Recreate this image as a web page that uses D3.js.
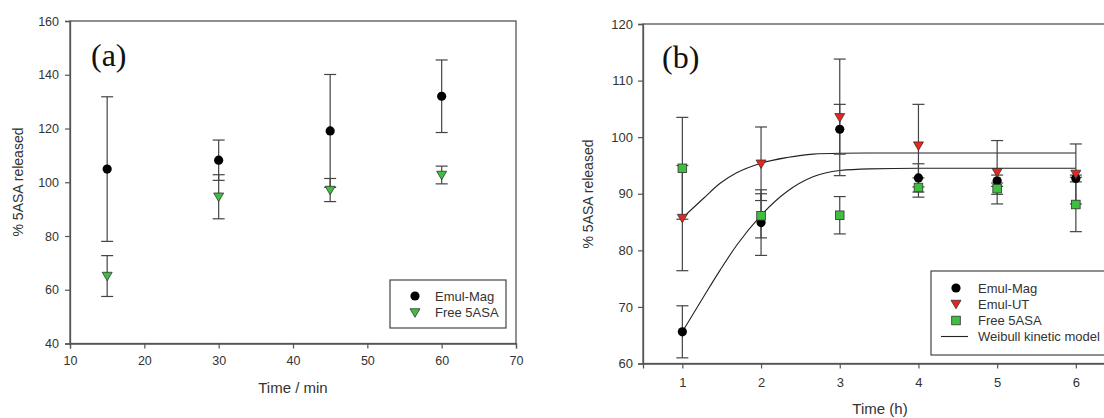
<!DOCTYPE html>
<html>
<head>
<meta charset="utf-8">
<script src="https://cdn.jsdelivr.net/npm/d3@7"></script>
<style>
  html, body { margin: 0; padding: 0; background: #fff; }
  svg { display: block; }
  text { font-family: "Liberation Sans", Arial, sans-serif; fill: #333; }
  text.panel { font-family: "Liberation Serif", "Times New Roman", serif; fill: #111; }
</style>
</head>
<body>
<svg id="chart" width="1104" height="418"></svg>
<script>
// ---------- Panel (a) data ----------
const timeA = [15, 30, 45, 60];
const magA = [104.9, 108.2, 119.1, 132.0];
const magAErr = [26.9, 7.5, 21.0, 13.5];
const freeA = [65.1, 94.6, 97.1, 102.7];
const freeAErr = [7.6, 8.2, 4.3, 3.3];
const xTicksA = [10, 20, 30, 40, 50, 60, 70];
const yTicksA = [40, 60, 80, 100, 120, 140, 160];
const legendA = ["Emul-Mag", "Free 5ASA"];

// ---------- Panel (b) data ----------
const timeB = [1, 2, 3, 4, 5, 6];
const magB = [65.6, 84.9, 101.4, 92.8, 92.3, 92.7];
const magBErr = [4.6, 5.8, 4.4, 2.5, 1.0, 0.6];
const utB = [85.7, 95.3, 103.5, 98.5, 93.8, 93.5];
const utBErr = [9.3, 6.5, 10.3, 7.3, 5.6, 5.3];
const freeB = [94.5, 86.1, 86.2, 91.1, 90.9, 88.1];
const freeBErr = [9.0, 3.9, 3.3, 1.7, 1.0, 4.8];
// Weibull model curves
const fitUTt = [1, 1.27, 1.48, 1.69, 2, 2.33, 2.66, 3, 3.5, 4, 5, 6];
const fitUTv = [85.7, 89.2, 91.85, 93.7, 95.4, 96.4, 97.0, 97.15, 97.2, 97.2, 97.2, 97.2];
const fitMagt = [1, 1.27, 1.48, 1.69, 2, 2.33, 2.66, 3, 3.38, 4, 5, 6];
const fitMagv = [65.6, 71.8, 76.5, 80.9, 86.2, 90.4, 93.0, 94.1, 94.4, 94.5, 94.5, 94.5];
const xTicksB = [1, 2, 3, 4, 5, 6];
const yTicksB = [60, 70, 80, 90, 100, 110, 120];
const legendB = ["Emul-Mag", "Emul-UT", "Free 5ASA", "Weibull kinetic model"];

const AXIS = "#555";
const ERR = "#444";
const GREEN = "#3fbf3f";
const RED = "#e8251f";

const svg = d3.select("#chart");

function styleAxis(g, fs) {
  g.selectAll("path.domain").attr("stroke", AXIS).attr("stroke-width", 1.3);
  g.selectAll(".tick line").attr("stroke", AXIS).attr("stroke-width", 1.2);
  g.selectAll(".tick text").style("font-size", fs + "px").style("fill", "#333");
}

function errorBars(g, x, y, ts, vs, es, cap) {
  ts.forEach((t, i) => {
    const cx = x(t), y1 = y(vs[i] + es[i]), y0 = y(vs[i] - es[i]);
    g.append("line").attr("x1", cx).attr("x2", cx).attr("y1", y1).attr("y2", y0)
      .attr("stroke", ERR).attr("stroke-width", 1.2);
    [y1, y0].forEach(yy => g.append("line")
      .attr("x1", cx - cap).attr("x2", cx + cap).attr("y1", yy).attr("y2", yy)
      .attr("stroke", ERR).attr("stroke-width", 1.2));
  });
}

function circleMark(g, cx, cy) {
  g.append("circle").attr("cx", cx).attr("cy", cy).attr("r", 4.6).attr("fill", "#000");
}
function triMark(g, cx, cy, fill) {
  const s = 5;
  g.append("path")
    .attr("d", `M${cx - s},${cy - s * 0.75}L${cx + s},${cy - s * 0.75}L${cx},${cy + s * 0.95}Z`)
    .attr("fill", fill).attr("stroke", "#333").attr("stroke-width", 0.8);
}
function sqMark(g, cx, cy) {
  const s = 4.3;
  g.append("rect").attr("x", cx - s).attr("y", cy - s).attr("width", 2 * s).attr("height", 2 * s)
    .attr("fill", GREEN).attr("stroke", "#333").attr("stroke-width", 0.8);
}

// ================= Panel (a) =================
{
  const x = d3.scaleLinear().domain([10, 70]).range([70, 516]);
  const y = d3.scaleLinear().domain([40, 160]).range([343.5, 21]);
  const g = svg.append("g");

  g.append("rect").attr("x", 70).attr("y", 21).attr("width", 446).attr("height", 322.5)
    .attr("fill", "none").attr("stroke", AXIS).attr("stroke-width", 1.3);

  g.append("g").attr("transform", "translate(0,343.5)")
    .call(d3.axisBottom(x).tickValues(xTicksA).tickSize(5).tickPadding(8).tickFormat(d3.format("d")))
    .call(styleAxis, 12.5);
  g.append("g").attr("transform", "translate(70,0)")
    .call(d3.axisLeft(y).tickValues(yTicksA).tickSize(5).tickPadding(6).tickFormat(d3.format("d")))
    .call(styleAxis, 12.5);

  g.append("text").attr("x", 293).attr("y", 393).attr("text-anchor", "middle")
    .style("font-size", "15px").text("Time / min");
  g.append("text").attr("transform", "translate(23,182) rotate(-90)").attr("text-anchor", "middle")
    .style("font-size", "14px").text("% 5ASA released");

  g.append("text").attr("class", "panel").attr("x", 91).attr("y", 66)
    .style("font-size", "32px").text("(a)");

  errorBars(g, x, y, timeA, magA, magAErr, 6);
  errorBars(g, x, y, timeA, freeA, freeAErr, 6);
  timeA.forEach((t, i) => circleMark(g, x(t), y(magA[i])));
  timeA.forEach((t, i) => triMark(g, x(t), y(freeA[i]), GREEN));

  // legend
  g.append("rect").attr("x", 390).attr("y", 280).attr("width", 116).attr("height", 48)
    .attr("fill", "#fff").attr("stroke", "#333").attr("stroke-width", 1.1);
  circleMark(g, 415, 296);
  triMark(g, 415, 312.5, GREEN);
  legendA.forEach((s, i) => g.append("text").attr("x", 435).attr("y", 296 + i * 16.5 + 4.6)
    .style("font-size", "13px").text(s));
}

// ================= Panel (b) =================
{
  const x = d3.scaleLinear().domain([0.5, 6.5]).range([643, 1115.2]);
  const y = d3.scaleLinear().domain([60, 120]).range([363.5, 24]);
  const g = svg.append("g");

  g.append("rect").attr("x", 643).attr("y", 24).attr("width", 472.2).attr("height", 339.5)
    .attr("fill", "none").attr("stroke", AXIS).attr("stroke-width", 1.3);

  g.append("g").attr("transform", "translate(0,363.5)")
    .call(d3.axisBottom(x).tickValues(xTicksB).tickSize(5).tickPadding(9).tickFormat(d3.format("d")))
    .call(styleAxis, 13);
  g.append("g").attr("transform", "translate(643,0)")
    .call(d3.axisLeft(y).tickValues(yTicksB).tickSize(5).tickPadding(5).tickFormat(d3.format("d")))
    .call(styleAxis, 13);

  g.append("text").attr("x", 880).attr("y", 414).attr("text-anchor", "middle")
    .style("font-size", "15px").text("Time (h)");
  g.append("text").attr("transform", "translate(593,194) rotate(-90)").attr("text-anchor", "middle")
    .style("font-size", "14px").text("% 5ASA released");

  g.append("text").attr("class", "panel").attr("x", 662).attr("y", 68)
    .style("font-size", "32px").text("(b)");

  const line = d3.line().x(d => x(d[0])).y(d => y(d[1])).curve(d3.curveMonotoneX);
  g.append("path").attr("d", line(fitUTt.map((t, i) => [t, fitUTv[i]])))
    .attr("fill", "none").attr("stroke", "#222").attr("stroke-width", 1.1);
  g.append("path").attr("d", line(fitMagt.map((t, i) => [t, fitMagv[i]])))
    .attr("fill", "none").attr("stroke", "#222").attr("stroke-width", 1.1);

  errorBars(g, x, y, timeB, magB, magBErr, 6);
  errorBars(g, x, y, timeB, utB, utBErr, 6);
  errorBars(g, x, y, timeB, freeB, freeBErr, 6);
  timeB.forEach((t, i) => circleMark(g, x(t), y(magB[i])));
  timeB.forEach((t, i) => triMark(g, x(t), y(utB[i]), RED));
  timeB.forEach((t, i) => sqMark(g, x(t), y(freeB[i])));

  // legend
  g.append("rect").attr("x", 931).attr("y", 271).attr("width", 200).attr("height", 84)
    .attr("fill", "#fff").attr("stroke", "#333").attr("stroke-width", 1.1);
  circleMark(g, 956, 288);
  triMark(g, 956, 304, RED);
  sqMark(g, 956, 320.5);
  g.append("line").attr("x1", 941).attr("x2", 968).attr("y1", 336.5).attr("y2", 336.5)
    .attr("stroke", "#222").attr("stroke-width", 1.1);
  legendB.forEach((s, i) => g.append("text").attr("x", 978).attr("y", 288 + i * 16.2 + 4.6)
    .style("font-size", "13px").text(s));
}
</script>
</body>
</html>
